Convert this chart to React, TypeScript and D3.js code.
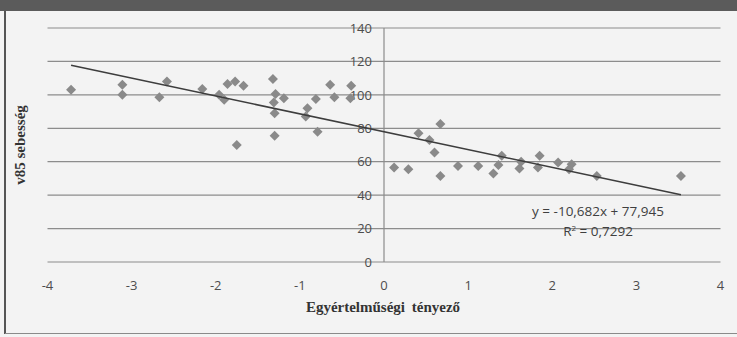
import { scaleLinear, symbol, symbolSquare, line } from 'd3';

// Scatter data
const xValues = [
  -3.72, -3.11, -3.11, -2.67, -2.58, -2.16, -1.96, -1.9, -1.86, -1.77, -1.67, -1.75,
  -1.32, -1.29, -1.31, -1.3, -1.19, -1.3, -0.93, -0.91, -0.81, -0.79, -0.64, -0.59,
  -0.39, -0.4, 0.12, 0.29, 0.41, 0.54, 0.6, 0.67, 0.67, 0.88, 1.12, 1.3, 1.36, 1.4,
  1.61, 1.63, 1.83, 1.85, 2.07, 2.23, 2.2, 2.53, 3.53,
];
const yValues = [
  103, 106, 100, 98.5, 108, 103.5, 100, 97, 106.5, 108, 105.5, 70,
  109.5, 100.5, 95.5, 89, 98, 75.5, 87, 92, 97.5, 78, 106, 98.5,
  105.5, 98, 56.5, 55.5, 77, 73, 65.5, 82.5, 51.5, 57.5, 57.5, 53, 58, 63.5,
  56, 60, 56.5, 63.5, 59.5, 58.5, 55.5, 51.5, 51.5,
];

const xTicks = [-4, -3, -2, -1, 0, 1, 2, 3, 4];
const yTicks = [0, 20, 40, 60, 80, 100, 120, 140];

const trendSlope = -10.682;
const trendIntercept = 77.945;
const trendRange = [-3.72, 3.53];

const equationText = 'y = -10,682x + 77,945';
const r2Text = '0,7292';
const xTitle = 'Egyértelműségi tényező';
const yTitle = 'v85 sebesség';

const W = 737;
const H = 337;

export default function App() {
  const x = scaleLinear().domain([-4, 4]).range([47.5, 720.5]);
  const y = scaleLinear().domain([0, 140]).range([262, 28]);

  const diamond = symbol().type(symbolSquare).size(50)() || '';
  const trendPath =
    line<number>()
      .x((d) => x(d))
      .y((d) => y(trendSlope * d + trendIntercept))(trendRange) || '';

  const tickFont = "'Open Sans', 'Liberation Sans', sans-serif";
  const titleFont = "'Liberation Serif', 'DejaVu Serif', serif";

  return (
    <div style={{ position: 'absolute', left: 0, top: 0 }}>
      <svg width={W} height={H} style={{ display: 'block' }}>
        <rect x={0} y={0} width={W} height={H} fill="#f3f3f3" />
        {/* dark header band */}
        <rect x={0} y={0} width={W} height={11} fill="#5b5b5b" />
        {/* frame */}
        <line x1={5} x2={5} y1={11} y2={334} stroke="#555" strokeWidth={2} />
        <line x1={5} x2={W} y1={333.5} y2={333.5} stroke="#8a8a8a" strokeWidth={1.2} />

        {/* horizontal grid */}
        {yTicks.map((t) => (
          <line
            key={'g' + t}
            x1={x(-4)}
            x2={x(4)}
            y1={y(t)}
            y2={y(t)}
            stroke="#8c8c8c"
            strokeWidth={1.2}
          />
        ))}
        {/* vertical axis at x=0 */}
        <line x1={x(0)} x2={x(0)} y1={y(140)} y2={y(0)} stroke="#8c8c8c" strokeWidth={1.2} />

        {/* y tick labels */}
        {yTicks.map((t) => (
          <text
            key={'yl' + t}
            x={x(0) - 12}
            y={y(t)}
            dy="0.36em"
            textAnchor="end"
            fontFamily={tickFont}
            fontSize={13}
            fill="#4d4d4d"
          >
            {t}
          </text>
        ))}

        {/* x tick labels */}
        {xTicks.map((t) => (
          <text
            key={'xl' + t}
            x={x(t)}
            y={y(0) + 28}
            textAnchor="middle"
            fontFamily={tickFont}
            fontSize={13}
            fill="#4d4d4d"
          >
            {t}
          </text>
        ))}

        {/* points */}
        {xValues.map((xv, i) => (
          <path
            key={'p' + i}
            d={diamond}
            transform={`translate(${x(xv)},${y(yValues[i])}) rotate(45)`}
            fill="#8a8a8a"
          />
        ))}

        {/* trend line */}
        <path d={trendPath} fill="none" stroke="#3d3d3d" strokeWidth={1.6} />

        {/* equation */}
        <text x={598} y={216} textAnchor="middle" fontFamily={tickFont} fontSize={13.5} fill="#3f3f3f">
          {equationText}
        </text>
        <text x={598} y={236} textAnchor="middle" fontFamily={tickFont} fontSize={13.5} fill="#3f3f3f">
          R<tspan dy={-5} fontSize={8}>2</tspan>
          <tspan dy={5}> = {r2Text}</tspan>
        </text>

        {/* axis titles */}
        <text
          x={383}
          y={312}
          textAnchor="middle"
          fontFamily={titleFont}
          fontWeight="bold"
          fontSize={15}
          fill="#333"
          wordSpacing={3}
        >
          {xTitle}
        </text>
        <text
          transform={`translate(25,145) rotate(-90)`}
          textAnchor="middle"
          fontFamily={titleFont}
          fontWeight="bold"
          fontSize={15}
          fill="#333"
        >
          {yTitle}
        </text>
      </svg>
    </div>
  );
}
